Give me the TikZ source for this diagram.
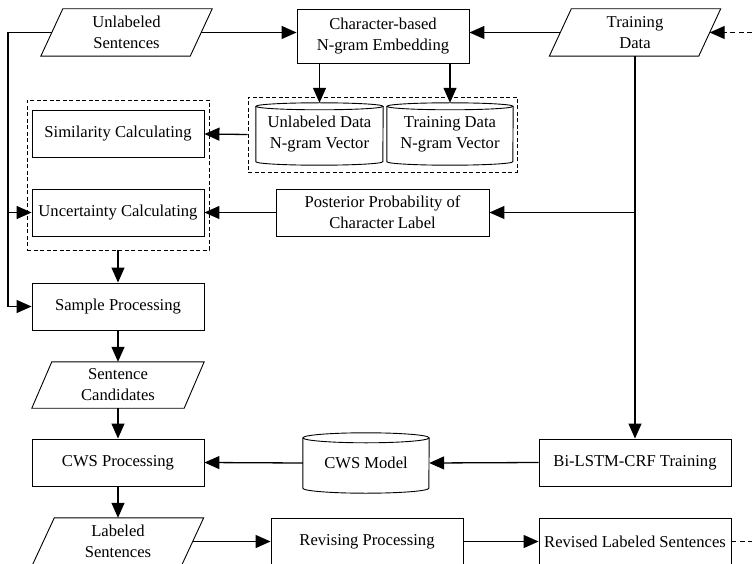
\documentclass[tikz,border=0pt]{standalone}
\usepackage{fontspec}
\setmainfont{Liberation Serif}
\usetikzlibrary{arrows.meta}
\newcommand{\drawpara}[2]{\draw[shapeline] ([xshift=#2]#1.north west) -- ([xshift=#2]#1.north east) -- ([xshift=-#2]#1.south east) -- ([xshift=-#2]#1.south west) -- cycle;}
\newcommand{\drawcyl}[3]{%
  \draw[shapeline] ([yshift=-#3]#1.north west) -- ([yshift=#3]#1.south west)
    arc[start angle=180,end angle=360,x radius=#2,y radius=#3] -- ([yshift=-#3]#1.north east);
  \draw[shapeline] ([yshift=-#3]#1.north) ellipse[x radius=#2,y radius=#3];}
\begin{document}
\begin{tikzpicture}[x=1pt,y=-1pt,
  txt/.style={inner sep=0pt, align=center, font=\fontsize{16.6}{21}\selectfont},
  sz/.style 2 args={minimum width=#1pt, minimum height=#2pt},
  boxd/.style={draw, line width=0.9pt},
  shapeline/.style={line width=0.9pt},
  grp/.style={draw, line width=0.9pt, dash pattern=on 4pt off 2.5pt},
  arr/.style={line width=1.3pt, -{Triangle[length=15pt,width=13pt]}},
  darr/.style={line width=1.3pt, dash pattern=on 5pt off 3.5pt, -{Triangle[length=15pt,width=13pt]}},
  dline/.style={line width=1.3pt, dash pattern=on 5pt off 3.5pt},
  ln/.style={line width=1.3pt}]
\useasboundingbox (0,0) rectangle (752,564);

% group boxes
\node[grp, sz={182}{150}] (g1) at (118,175) {};
\node[grp, sz={269}{75}] (g2) at (382.5,134.5) {};

% top row
\node[txt, sz={149}{47}] (us) at (126.5,32.5) {Unlabeled\\Sentences};
\drawpara{us}{11pt}
\node[txt, boxd, sz={172}{54}] (emb) at (383,36) {Character-based\\N-gram Embedding};
\node[txt, sz={149}{47}] (td) at (635,32.5) {Training\\Data};
\drawpara{td}{11pt}
\coordinate (tdin) at (752,32.5);

% cylinders
\node[txt, sz={127}{62}] (c1) at (319.5,134) {Unlabeled Data\\N-gram Vector};
\drawcyl{c1}{63.5pt}{3.5pt}
\node[txt, sz={126}{62}] (c2) at (450,134) {Training Data\\N-gram Vector};
\drawcyl{c2}{63pt}{3.5pt}

% left column
\node[txt, boxd, sz={172}{47}] (sim) at (118,134) {Similarity Calculating};
\node[txt, boxd, sz={172}{47}] (unc) at (118,212.5) {Uncertainty Calculating};
\node[txt, boxd, sz={213}{47}] (post) at (382.5,212.5) {Posterior Probability of\\Character Label};
\node[txt, boxd, sz={172}{47}] (samp) at (118,306.5) {Sample Processing};
\node[txt, sz={152}{46}] (sc) at (118,385) {Sentence\\Candidates};
\drawpara{sc}{10pt}
\node[txt, boxd, sz={172}{47}] (cws) at (118,462.5) {CWS Processing};
\node[txt, sz={126}{60}] (cwsm) at (366,463) {CWS Model};
\drawcyl{cwsm}{63pt}{5pt}
\node[txt, boxd, sz={192}{47}] (bil) at (635,462.5) {Bi-LSTM-CRF Training};
\node[txt, sz={149}{47}] (ls) at (118,541.5) {Labeled\\Sentences};
\drawpara{ls}{11pt}
\node[txt, boxd, sz={192}{47}] (rev) at (367,541.5) {Revising Processing};
\node[txt, boxd, sz={192}{47}] (revd) at (635,541.5) {Revised Labeled Sentences};
\coordinate (revout) at (752,541.5);
\coordinate (L) at (8,0);

% connectors
\draw[arr] (us.east) -- (us.east -| emb.west);
\draw[arr] (td.west) -- (td.west -| emb.east);
\draw[darr] (tdin) -- (td.east);
\draw[arr] (emb.south -| c1.north) -- (c1.north);
\draw[arr] (emb.south -| c2.north) -- (c2.north);
\draw[arr] (g2.west) -- (sim.east);
\draw[arr] (post.west) -- (unc.east);
\draw[arr] (td.south) -- (bil.north);
\draw[arr] (td.south |- post.east) -- (post.east);
\draw[arr] (us.west) -- (us.west -| L) |- (samp.west);
\draw[arr] (L |- unc.west) -- (unc.west);
\draw[arr] (g1.south) -- (samp.north);
\draw[arr] (samp.south) -- (sc.north);
\draw[arr] (sc.south) -- (cws.north);
\draw[arr] (cws.south) -- (ls.north);
\draw[arr] (cwsm.west) -- (cws.east);
\draw[arr] (bil.west) -- (cwsm.east);
\draw[arr] (ls.east) -- (rev.west);
\draw[arr] (rev.east) -- (revd.west);
\draw[dline] (revd.east) -- (revout);
\end{tikzpicture}
\end{document}
